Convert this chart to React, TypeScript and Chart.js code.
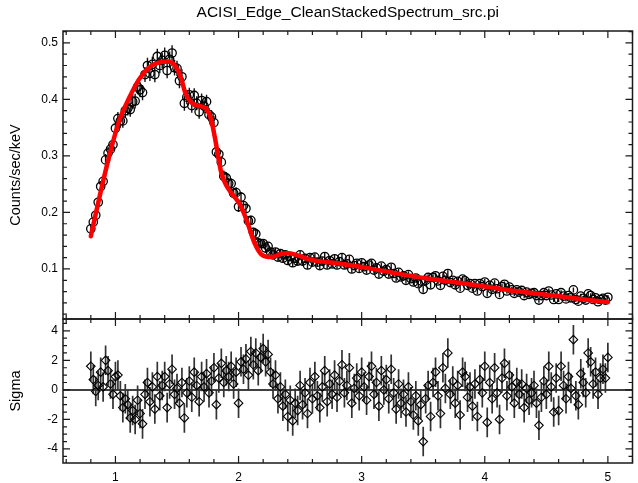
import React, { useEffect, useRef } from 'react';
import { Chart, registerables } from 'chart.js';

Chart.register(...registerables);

const FONT = '"Liberation Sans", Arial, Helvetica, sans-serif';

const TITLE = 'ACISI_Edge_CleanStackedSpectrum_src.pi';
const Y_LABEL_SPEC = 'Counts/sec/keV';
const Y_LABEL_RES = 'Sigma';

const X_TICKS = [1, 2, 3, 4, 5];
const SPEC_TICKS = [0.1, 0.2, 0.3, 0.4, 0.5];
const RES_TICKS = [-4, -2, 0, 2, 4];

const X_MIN = 0.574;
const X_MAX = 5.2;
const SPEC_MIN = 0.0115;
const SPEC_MAX = 0.521;
const RES_MIN = -4.95;
const RES_MAX = 4.8;
const X_MINOR = 0.2, X_MAJOR = 1;
const SPEC_MINOR = 0.02, SPEC_MAJOR = 0.1;
const RES_MINOR = 0.5, RES_MAJOR = 2;

// Energy (keV) of each spectral bin
const energy = [
  0.80, 0.82, 0.84, 0.86, 0.88, 0.90, 0.92, 0.94, 0.96, 0.98,
  1.00, 1.02, 1.04, 1.06, 1.08, 1.10, 1.12, 1.14, 1.16, 1.18,
  1.20, 1.22, 1.24, 1.26, 1.28, 1.30, 1.32, 1.34, 1.36, 1.38,
  1.40, 1.42, 1.44, 1.46, 1.48, 1.50, 1.52, 1.54, 1.56, 1.58,
  1.60, 1.62, 1.64, 1.66, 1.68, 1.70, 1.72, 1.74, 1.76, 1.78,
  1.80, 1.82, 1.84, 1.86, 1.88, 1.90, 1.92, 1.94, 1.96, 1.98,
  2.00, 2.02, 2.04, 2.06, 2.08, 2.10, 2.12, 2.14, 2.16, 2.18,
  2.20, 2.22, 2.24, 2.26, 2.28, 2.30, 2.32, 2.34, 2.36, 2.38,
  2.40, 2.42, 2.44, 2.46, 2.48, 2.50, 2.52, 2.54, 2.56, 2.58,
  2.60, 2.62, 2.64, 2.66, 2.68, 2.70, 2.72, 2.74, 2.76, 2.78,
  2.80, 2.82, 2.84, 2.86, 2.88, 2.90, 2.92, 2.94, 2.96, 2.98,
  3.00, 3.02, 3.04, 3.06, 3.08, 3.10, 3.12, 3.14, 3.16, 3.18,
  3.20, 3.22, 3.24, 3.26, 3.28, 3.30, 3.32, 3.34, 3.36, 3.38,
  3.40, 3.42, 3.44, 3.46, 3.48, 3.50, 3.52, 3.54, 3.56, 3.58,
  3.60, 3.62, 3.64, 3.66, 3.68, 3.70, 3.72, 3.74, 3.76, 3.78,
  3.80, 3.82, 3.84, 3.86, 3.88, 3.90, 3.92, 3.94, 3.96, 3.98,
  4.00, 4.02, 4.04, 4.06, 4.08, 4.10, 4.12, 4.14, 4.16, 4.18,
  4.20, 4.22, 4.24, 4.26, 4.28, 4.30, 4.32, 4.34, 4.36, 4.38,
  4.40, 4.42, 4.44, 4.46, 4.48, 4.50, 4.52, 4.54, 4.56, 4.58,
  4.60, 4.62, 4.64, 4.66, 4.68, 4.70, 4.72, 4.74, 4.76, 4.78,
  4.80, 4.82, 4.84, 4.86, 4.88, 4.90, 4.92, 4.94, 4.96, 4.98,
  5.00,
];

// Counts/sec/keV per bin
const counts = [
  0.171, 0.183, 0.195, 0.218, 0.246, 0.255, 0.293, 0.305, 0.312, 0.320,
  0.349, 0.366, 0.362, 0.362, 0.380, 0.384, 0.382, 0.396, 0.397, 0.422,
  0.417, 0.412, 0.444, 0.460, 0.446, 0.462, 0.444, 0.476, 0.460, 0.469,
  0.478, 0.451, 0.471, 0.482, 0.456, 0.455, 0.433, 0.440, 0.393, 0.404,
  0.408, 0.389, 0.407, 0.393, 0.378, 0.398, 0.388, 0.396, 0.373, 0.369,
  0.359, 0.307, 0.303, 0.289, 0.264, 0.261, 0.251, 0.251, 0.234, 0.235,
  0.210, 0.227, 0.212, 0.207, 0.185, 0.186, 0.165, 0.162, 0.146, 0.145,
  0.145, 0.137, 0.140, 0.130, 0.125, 0.130, 0.121, 0.127, 0.119, 0.125,
  0.115, 0.122, 0.111, 0.119, 0.114, 0.125, 0.114, 0.119, 0.107, 0.120,
  0.112, 0.121, 0.112, 0.106, 0.114, 0.122, 0.107, 0.115, 0.109, 0.118,
  0.107, 0.113, 0.120, 0.107, 0.109, 0.117, 0.100, 0.106, 0.110, 0.101,
  0.111, 0.104, 0.098, 0.107, 0.110, 0.098, 0.102, 0.091, 0.105, 0.096,
  0.099, 0.091, 0.103, 0.092, 0.084, 0.094, 0.086, 0.088, 0.080, 0.090,
  0.083, 0.077, 0.084, 0.074, 0.079, 0.064, 0.080, 0.085, 0.072, 0.085,
  0.088, 0.079, 0.071, 0.087, 0.080, 0.092, 0.076, 0.080, 0.072, 0.078,
  0.066, 0.082, 0.079, 0.071, 0.074, 0.066, 0.074, 0.061, 0.074, 0.069,
  0.077, 0.057, 0.071, 0.064, 0.075, 0.065, 0.055, 0.069, 0.073, 0.061,
  0.068, 0.063, 0.057, 0.063, 0.059, 0.062, 0.053, 0.059, 0.055, 0.057,
  0.058, 0.053, 0.045, 0.053, 0.058, 0.053, 0.061, 0.054, 0.046, 0.056,
  0.046, 0.058, 0.052, 0.047, 0.053, 0.049, 0.063, 0.046, 0.043, 0.052,
  0.048, 0.045, 0.056, 0.053, 0.046, 0.049, 0.042, 0.046, 0.048, 0.045,
  0.050,
];

// 1-sigma error of each bin
const countsErr = [
  0.0079, 0.0084, 0.0089, 0.0093, 0.0097, 0.0101, 0.0104, 0.0108, 0.0111, 0.0114,
  0.0116, 0.0119, 0.0121, 0.0123, 0.0124, 0.0126, 0.0127, 0.0129, 0.0130, 0.0131,
  0.0132, 0.0133, 0.0134, 0.0135, 0.0136, 0.0136, 0.0136, 0.0136, 0.0136, 0.0136,
  0.0136, 0.0136, 0.0136, 0.0136, 0.0136, 0.0135, 0.0133, 0.0132, 0.0129, 0.0128,
  0.0126, 0.0126, 0.0125, 0.0124, 0.0124, 0.0124, 0.0124, 0.0124, 0.0122, 0.0120,
  0.0117, 0.0113, 0.0108, 0.0104, 0.0102, 0.0100, 0.0098, 0.0097, 0.0096, 0.0095,
  0.0093, 0.0092, 0.0089, 0.0087, 0.0084, 0.0081, 0.0078, 0.0076, 0.0074, 0.0072,
  0.0071, 0.0070, 0.0070, 0.0070, 0.0070, 0.0070, 0.0071, 0.0071, 0.0071, 0.0071,
  0.0071, 0.0071, 0.0071, 0.0071, 0.0070, 0.0070, 0.0070, 0.0069, 0.0069, 0.0069,
  0.0068, 0.0068, 0.0068, 0.0068, 0.0068, 0.0068, 0.0067, 0.0067, 0.0067, 0.0067,
  0.0067, 0.0066, 0.0066, 0.0066, 0.0066, 0.0066, 0.0065, 0.0065, 0.0065, 0.0065,
  0.0064, 0.0064, 0.0064, 0.0063, 0.0063, 0.0063, 0.0063, 0.0062, 0.0062, 0.0062,
  0.0061, 0.0061, 0.0061, 0.0060, 0.0060, 0.0060, 0.0060, 0.0059, 0.0059, 0.0059,
  0.0059, 0.0058, 0.0058, 0.0058, 0.0058, 0.0058, 0.0058, 0.0058, 0.0057, 0.0057,
  0.0057, 0.0057, 0.0056, 0.0056, 0.0056, 0.0056, 0.0056, 0.0055, 0.0055, 0.0055,
  0.0055, 0.0055, 0.0054, 0.0054, 0.0054, 0.0054, 0.0054, 0.0053, 0.0053, 0.0053,
  0.0052, 0.0052, 0.0052, 0.0052, 0.0052, 0.0051, 0.0051, 0.0051, 0.0050, 0.0050,
  0.0050, 0.0049, 0.0049, 0.0049, 0.0049, 0.0049, 0.0048, 0.0048, 0.0048, 0.0048,
  0.0047, 0.0047, 0.0047, 0.0047, 0.0047, 0.0046, 0.0046, 0.0046, 0.0046, 0.0045,
  0.0045, 0.0045, 0.0045, 0.0045, 0.0044, 0.0044, 0.0044, 0.0044, 0.0043, 0.0043,
  0.0043, 0.0043, 0.0042, 0.0042, 0.0042, 0.0042, 0.0041, 0.0041, 0.0041, 0.0041,
  0.0040,
];

// Residuals in sigma (error bars are +/-1 sigma)
const sigma = [
  1.6, 0.7, -0.1, 0.3, 1.2, 0.2, 2.0, 1.3, 0.4, -0.3,
  0.9, 1.0, -0.4, -1.2, -0.6, -1.0, -1.9, -1.4, -2.0, -0.7,
  -1.6, -2.3, -0.3, 0.5, -0.8, 0.2, -1.3, 0.9, -0.4, 0.3,
  0.9, -1.2, 0.4, 1.4, -0.3, 0.1, -0.9, 0.5, -1.9, -0.2,
  0.6, -0.5, 1.2, 0.3, -0.8, 0.9, 0.2, 1.1, -0.2, 0.6,
  1.5, -1.0, 0.8, 1.8, 0.5, 1.3, 0.9, 1.6, 0.4, 1.2,
  -0.9, 1.9, 1.4, 2.1, 1.0, 2.6, 1.7, 2.5, 1.3, 2.2,
  2.8, 1.9, 2.4, 1.2, 0.4, 1.0, -0.6, 0.2, -1.1, -0.3,
  -1.8, -0.7, -2.1, -0.9, -1.4, 0.3, -1.0, -0.2, -1.6, 0.5,
  -0.6, 0.9, -0.4, -1.2, 0.2, 1.3, -0.8, 0.4, -0.3, 1.0,
  -0.5, 0.6, 1.7, -0.2, 0.3, 1.5, -0.9, 0.1, 0.8, -0.4,
  1.2, 0.2, -0.7, 0.9, 1.6, -0.3, 0.5, -1.1, 1.3, 0.0,
  0.7, -0.6, 1.4, -0.2, -1.3, 0.4, -0.9, -0.3, -1.5, 0.2,
  -0.8, -1.7, -0.4, -2.1, -1.0, -3.5, -0.6, 0.3, -1.8, 0.5,
  1.2, -0.4, -1.6, 1.5, 0.1, 2.5, -0.3, 0.6, -0.9, 0.3,
  -1.7, 1.2, 0.9, -0.5, 0.2, -1.1, 0.4, -1.8, 0.7, -0.2,
  1.6, -2.2, 0.5, -0.6, 1.5, -0.2, -2.0, 0.8, 1.8, -0.4,
  1.0, 0.2, -0.9, 0.5, -0.3, 0.4, -1.2, 0.1, -0.7, -0.2,
  0.3, -0.9, -2.4, -0.5, 0.6, -0.3, 1.6, 0.2, -1.5, 0.8,
  -1.4, 1.6, 0.3, -0.6, 0.9, 0.1, 3.4, -0.4, -1.0, 1.1,
  0.5, -0.2, 2.5, 1.9, 0.4, 1.2, -0.3, 0.8, 1.4, 0.8,
  2.2,
];

// Fitted model curve
const modelEnergy = [
  0.80, 0.87, 0.95, 1.03, 1.11, 1.19, 1.27, 1.35, 1.43, 1.49, 1.53,
  1.57, 1.61, 1.65, 1.73, 1.76, 1.78, 1.81, 1.86, 1.90, 1.94,
  1.98, 2.01, 2.05, 2.08, 2.13, 2.19, 2.27, 2.35, 2.41, 2.48,
  2.59, 2.80, 3.04, 3.26, 3.53, 3.85, 4.25, 4.66, 5.00,
];
const modelCounts = [
  0.158, 0.227, 0.300, 0.362, 0.402, 0.435, 0.456, 0.465, 0.467, 0.458, 0.440,
  0.410, 0.396, 0.390, 0.385, 0.375, 0.362, 0.330, 0.270, 0.248, 0.235,
  0.224, 0.215, 0.195, 0.177, 0.146, 0.125, 0.121, 0.127, 0.128, 0.124,
  0.116, 0.110, 0.102, 0.093, 0.083, 0.074, 0.061, 0.050, 0.041,
];

function tickValues(min: number, max: number, step: number): number[] {
  const out: number[] = [];
  const a = Math.ceil(min / step - 1e-9);
  const b = Math.floor(max / step + 1e-9);
  for (let k = a; k <= b; k++) out.push(k * step);
  return out;
}
function isMajor(v: number, major: number): boolean {
  const q = v / major;
  return Math.abs(q - Math.round(q)) < 1e-6;
}

const decorPlugin = {
  id: 'decor',
  beforeDatasetsDraw(chart: any) {
    const { ctx } = chart;
    const xs = chart.scales.x;
    const ys = chart.scales.ySpec;
    const yr = chart.scales.yRes;

    // residual panel: zero line and error bars
    ctx.save();
    ctx.beginPath();
    ctx.rect(xs.left, yr.top, xs.right - xs.left, yr.bottom - yr.top);
    ctx.clip();
    ctx.strokeStyle = '#000';
    ctx.lineWidth = 1.5;
    const z = yr.getPixelForValue(0);
    ctx.beginPath();
    ctx.moveTo(xs.left, z);
    ctx.lineTo(xs.right, z);
    ctx.stroke();
    ctx.strokeStyle = '#333';
    ctx.lineWidth = 1.7;
    ctx.beginPath();
    energy.forEach((e, i) => {
      const px = xs.getPixelForValue(e);
      ctx.moveTo(px, yr.getPixelForValue(sigma[i] - 1));
      ctx.lineTo(px, yr.getPixelForValue(sigma[i] + 1));
    });
    ctx.stroke();
    ctx.restore();

    // spectrum panel error bars
    ctx.save();
    ctx.beginPath();
    ctx.rect(xs.left, ys.top, xs.right - xs.left, ys.bottom - ys.top);
    ctx.clip();
    ctx.strokeStyle = '#111';
    ctx.lineWidth = 1.4;
    ctx.beginPath();
    energy.forEach((e, i) => {
      const px = xs.getPixelForValue(e);
      ctx.moveTo(px, ys.getPixelForValue(counts[i] - countsErr[i]));
      ctx.lineTo(px, ys.getPixelForValue(counts[i] + countsErr[i]));
    });
    ctx.stroke();
    ctx.restore();
  },
  afterDraw(chart: any) {
    const { ctx } = chart;
    const xs = chart.scales.x;
    const ys = chart.scales.ySpec;
    const yr = chart.scales.yRes;
    const L = xs.left;
    const R = xs.right;
    const MAJ = 7;
    const MIN = 4;

    ctx.save();
    ctx.strokeStyle = '#1a1a1a';
    ctx.lineWidth = 1.5;
    ctx.strokeRect(L, ys.top, R - L, ys.bottom - ys.top);
    ctx.strokeRect(L, yr.top, R - L, yr.bottom - yr.top);

    ctx.lineWidth = 1.2;
    ctx.beginPath();
    // x ticks on every horizontal edge, pointing inward
    for (const v of tickValues(X_MIN, X_MAX, X_MINOR)) {
      const px = xs.getPixelForValue(v);
      const len = isMajor(v, X_MAJOR) ? MAJ : MIN;
      for (const [edge, dir] of [[ys.top, 1], [ys.bottom, -1], [yr.top, 1], [yr.bottom, -1]]) {
        ctx.moveTo(px, edge);
        ctx.lineTo(px, edge + dir * len);
      }
    }
    // y ticks spectrum panel
    for (const v of tickValues(SPEC_MIN, SPEC_MAX, SPEC_MINOR)) {
      const py = ys.getPixelForValue(v);
      const len = isMajor(v, SPEC_MAJOR) ? MAJ : MIN;
      ctx.moveTo(L, py); ctx.lineTo(L + len, py);
      ctx.moveTo(R, py); ctx.lineTo(R - len, py);
    }
    // y ticks residual panel
    for (const v of tickValues(RES_MIN, RES_MAX, RES_MINOR)) {
      const py = yr.getPixelForValue(v);
      const len = isMajor(v, RES_MAJOR) ? MAJ : MIN;
      ctx.moveTo(L, py); ctx.lineTo(L + len, py);
      ctx.moveTo(R, py); ctx.lineTo(R - len, py);
    }
    ctx.stroke();

    // title
    ctx.fillStyle = '#000';
    ctx.font = `15.5px ${FONT}`;
    ctx.textAlign = 'center';
    ctx.textBaseline = 'alphabetic';
    ctx.fillText(TITLE, (L + R) / 2, 17);

    // axis titles
    ctx.font = `14.5px ${FONT}`;
    ctx.save();
    ctx.translate(20, (ys.top + ys.bottom) / 2);
    ctx.rotate(-Math.PI / 2);
    ctx.fillText(Y_LABEL_SPEC, 0, 0);
    ctx.restore();
    ctx.save();
    ctx.translate(20, (yr.top + yr.bottom) / 2);
    ctx.rotate(-Math.PI / 2);
    ctx.fillText(Y_LABEL_RES, 0, 0);
    ctx.restore();
    ctx.restore();
  },
};

const tickFont = { family: FONT, size: 12 };

export default function App() {
  const canvasRef = useRef<HTMLCanvasElement | null>(null);

  useEffect(() => {
    const canvas = canvasRef.current;
    if (!canvas) return;
    const chart = new Chart(canvas, {
      type: 'scatter',
      data: {
        datasets: [
          {
            type: 'line',
            label: 'model',
            data: modelEnergy.map((x, i) => ({ x, y: modelCounts[i] })),
            yAxisID: 'ySpec',
            borderColor: '#ff0000',
            borderWidth: 4.5,
            borderCapStyle: 'round',
            borderJoinStyle: 'round',
            pointRadius: 0,
            cubicInterpolationMode: 'monotone',
            fill: false,
            order: 0,
          } as any,
          {
            label: 'data',
            data: energy.map((x, i) => ({ x, y: counts[i] })),
            yAxisID: 'ySpec',
            pointStyle: 'circle',
            pointRadius: 4.2,
            pointBorderWidth: 1.3,
            borderColor: '#000',
            backgroundColor: 'rgba(0,0,0,0)',
            order: 1,
          },
          {
            label: 'residuals',
            data: energy.map((x, i) => ({ x, y: sigma[i] })),
            yAxisID: 'yRes',
            pointStyle: 'rectRot',
            pointRadius: 4.3,
            pointBorderWidth: 1.1,
            borderColor: '#000',
            backgroundColor: 'rgba(0,0,0,0)',
            order: 1,
          },
        ],
      },
      options: {
        animation: false,
        responsive: false,
        events: [],
        layout: { padding: { top: 31, right: 1, left: 0, bottom: 0 } },
        plugins: {
          legend: { display: false },
          title: { display: false },
          tooltip: { enabled: false },
        },
        scales: {
          x: {
            type: 'linear',
            position: 'bottom',
            min: X_MIN,
            max: X_MAX,
            afterBuildTicks: (s: any) => { s.ticks = X_TICKS.map((v) => ({ value: v })); },
            afterFit: (s: any) => { s.height = 20; },
            grid: { display: false, drawTicks: false },
            border: { display: false },
            ticks: { color: '#000', font: tickFont, padding: 7, maxRotation: 0, autoSkip: false, callback: (v: any) => String(v) },
          },
          ySpec: {
            type: 'linear',
            position: 'left',
            stack: 'panels',
            stackWeight: 2,
            weight: 1,
            min: SPEC_MIN,
            max: SPEC_MAX,
            afterBuildTicks: (s: any) => { s.ticks = SPEC_TICKS.map((v) => ({ value: v })); },
            afterFit: (s: any) => { s.width = 63; },
            grid: { display: false, drawTicks: false },
            border: { display: false },
            ticks: { color: '#000', font: tickFont, padding: 5, autoSkip: false, callback: (v: any) => Number(v).toFixed(1) },
          },
          yRes: {
            type: 'linear',
            position: 'left',
            stack: 'panels',
            stackWeight: 1,
            weight: 0,
            min: RES_MIN,
            max: RES_MAX,
            afterBuildTicks: (s: any) => { s.ticks = RES_TICKS.map((v) => ({ value: v })); },
            afterFit: (s: any) => { s.width = 63; },
            grid: { display: false, drawTicks: false },
            border: { display: false },
            ticks: { color: '#000', font: tickFont, padding: 5, autoSkip: false, callback: (v: any) => String(v) },
          },
        },
      } as any,
      plugins: [decorPlugin],
    });
    return () => chart.destroy();
  }, []);

  return (
    <div style={{ position: 'absolute', left: 0, top: 0, width: 638, height: 483, background: '#fff' }}>
      <canvas ref={canvasRef} width={638} height={483} style={{ width: 638, height: 483, display: 'block' }} />
    </div>
  );
}
